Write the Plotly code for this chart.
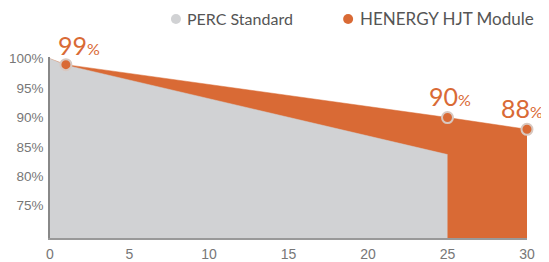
import plotly.graph_objects as go

years_hjt = [0, 1, 25, 30]
hjt_values = [100, 99, 90, 88]
years_perc = [0, 1, 25]
perc_values = [100, 98.9, 83.7]
label_years = [1, 25, 30]
label_values = [99, 90, 88]
x_ticks = [0, 5, 10, 15, 20, 25, 30]
y_ticks = [75, 80, 85, 90, 95, 100]
series_names = ["PERC Standard", "HENERGY HJT Module"]

ORANGE = "#D96A35"
GRAY = "#D1D2D4"

fig = go.Figure()
fig.add_trace(go.Scatter(x=years_hjt, y=hjt_values, mode="lines", fill="tozeroy",
                         fillcolor=ORANGE, line=dict(color=ORANGE, width=0.5),
                         showlegend=False, hoverinfo="skip"))
fig.add_trace(go.Scatter(x=years_perc, y=perc_values, mode="lines", fill="tozeroy",
                         fillcolor=GRAY, line=dict(color=GRAY, width=0.5),
                         showlegend=False, hoverinfo="skip"))
fig.add_trace(go.Scatter(x=label_years, y=label_values, mode="markers",
                         marker=dict(size=11, color=ORANGE, line=dict(color="#D8C8C0", width=2)),
                         cliponaxis=False, showlegend=False, hoverinfo="skip"))

for yr, v in zip(label_years, label_values):
    xs = {1: 13, 25: 2, 30: -5}[yr]
    ys = {1: 3, 25: 5, 30: 4}[yr]
    fig.add_annotation(x=yr, y=v, xref="x", yref="y", xshift=xs, yshift=ys,
                       text=f"{v}<span style='font-size:16px'>%</span>",
                       showarrow=False, xanchor="center", yanchor="bottom",
                       font=dict(family="Lato", size=25, color=ORANGE))

# legend
legend_items = [(0.264, 0.283, GRAY, series_names[0], 16),
                (0.625, 0.645, ORANGE, series_names[1], 17)]
for dotx, textx, col, name, fs in legend_items:
    fig.add_shape(type="circle", xref="paper", yref="paper", xsizemode="pixel", ysizemode="pixel",
                  xanchor=dotx, yanchor=1.21, x0=-5, x1=5, y0=-5, y1=5,
                  fillcolor=col, line=dict(width=0))
    fig.add_annotation(x=textx, y=1.21, xref="paper", yref="paper", text=name,
                       showarrow=False, xanchor="left", yanchor="middle",
                       font=dict(family="Lato", size=fs, color="#555555"))

fig.update_xaxes(range=[0, 30], tickvals=x_ticks, showgrid=False, zeroline=False,
                 showline=True, linecolor="#999999", linewidth=1.5, ticks="", automargin=False,
                 ticklabelstandoff=2,
                 tickfont=dict(family="Liberation Sans", size=14, color="#777777"))
fig.update_yaxes(range=[69.5, 100.3], tickvals=y_ticks, ticktext=[f"{t}%" for t in y_ticks],
                 showgrid=False, zeroline=False, showline=True, linecolor="#888888", linewidth=1.5,
                 ticks="", automargin=False, ticklabelstandoff=2,
                 tickfont=dict(family="Liberation Sans", size=13.5, color="#777777"))
fig.update_layout(width=541, height=254, margin=dict(l=42, r=22, t=49, b=24, autoexpand=False),
                  plot_bgcolor="white", paper_bgcolor="white", showlegend=False)
fig.write_html("out.html")
